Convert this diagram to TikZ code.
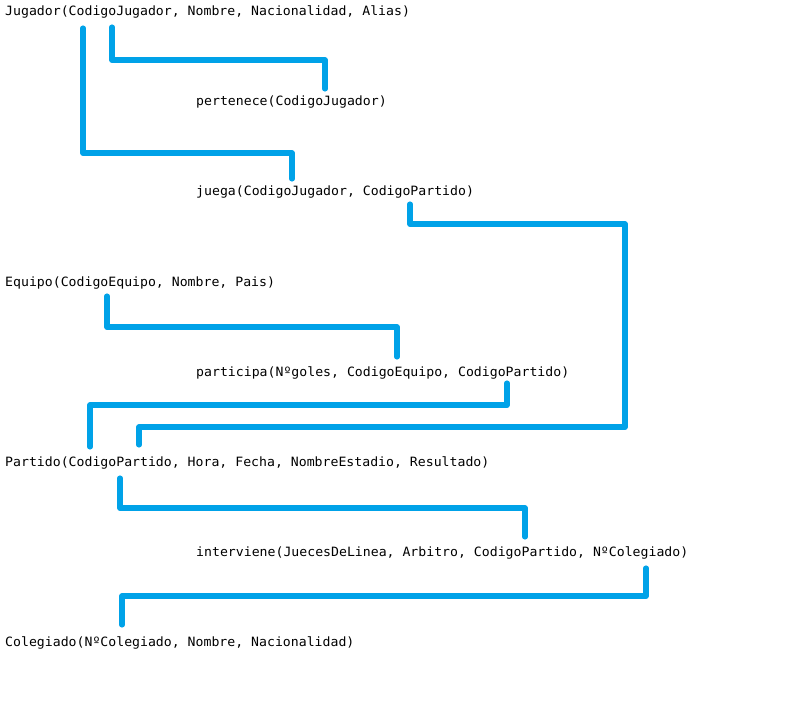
\documentclass[tikz,border=0pt]{standalone}
\usepackage{fontspec}
\usepackage{xcolor}
\usepackage{tikz}
\setmonofont[FakeStretch=1.03]{DejaVu Sans Mono}
\definecolor{linkblue}{HTML}{00A2E8}
\newcommand{\relfont}{\ttfamily\fontsize{12.8}{15}\selectfont}
\tikzset{
    tabla/.style={anchor=base west, inner sep=0pt, text height=9pt, text depth=3pt, font=\relfont},
    link/.style={draw=linkblue, line width=5.5pt, line cap=round, line join=round}
}

\begin{document}
\begin{tikzpicture}[x=1pt, y=-1pt]
        \useasboundingbox[fill=white] (0, 0) rectangle (805, 711);

        \node[tabla] (jugador) at (5, 16) {Jugador(CodigoJugador, Nombre, Nacionalidad, Alias)};
        \node[tabla] (pertenece) at (196, 106) {pertenece(CodigoJugador)};
        \node[tabla] (juega) at (196, 196) {juega(CodigoJugador, CodigoPartido)};
        \node[tabla] (equipo) at (5, 286) {Equipo(CodigoEquipo, Nombre, Pais)};
        \node[tabla] (participa) at (196, 376) {participa(Nºgoles, CodigoEquipo, CodigoPartido)};
        \node[tabla] (partido) at (5, 466) {Partido(CodigoPartido, Hora, Fecha, NombreEstadio, Resultado)};
        \node[tabla] (interviene) at (196, 556) {interviene(JuecesDeLinea, Arbitro, CodigoPartido, NºColegiado)};
        \node[tabla] (colegiado) at (5, 646) {Colegiado(NºColegiado, Nombre, Nacionalidad)};

        \draw[link] ([shift={(107, 8)}]jugador.south west) -- ++(0, 33) -| ([shift={(129, -8)}]pertenece.north west);
        \draw[link] ([shift={(78, 9)}]jugador.south west) -- ++(0, 125) -| ([shift={(96, -8)}]juega.north west);
        \draw[link] ([shift={(214, 5)}]juega.south west) -- ++(0, 20) -- ++(215, 0) -- ++(0, 203) -| ([shift={(134, -12)}]partido.north west);
        \draw[link] ([shift={(102, 7)}]equipo.south west) -- ++(0, 31) -| ([shift={(201, -10)}]participa.north west);
        \draw[link] ([shift={(311, 4)}]participa.south west) -- ++(0, 22) -| ([shift={(85, -10)}]partido.north west);
        \draw[link] ([shift={(115, 9)}]partido.south west) -- ++(0, 30) -| ([shift={(329, -10)}]interviene.north west);
        \draw[link] ([shift={(450, 9)}]interviene.south west) -- ++(0, 28) -| ([shift={(117, -12)}]colegiado.north west);
    \end{tikzpicture}
\end{document}
